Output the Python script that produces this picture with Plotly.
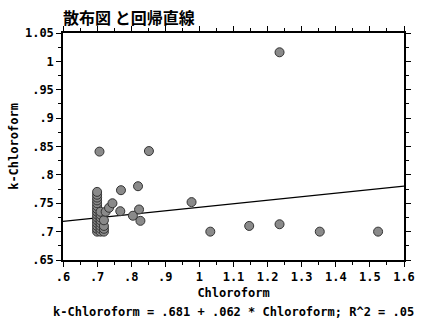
import plotly.graph_objects as go

# Observations
chloroform = [
    0.70, 0.70, 0.70, 0.70, 0.70, 0.70, 0.70, 0.70, 0.70, 0.70, 0.70, 0.70, 0.70, 0.70, 0.70,
    0.71, 0.71, 0.71, 0.71, 0.71, 0.71, 0.71, 0.71,
    0.72, 0.72, 0.72, 0.72,
    0.725, 0.735, 0.745,
    0.707, 0.852, 0.770, 0.820, 0.768, 0.823, 0.805, 0.827,
    0.977, 1.032, 1.146, 1.235, 1.235, 1.353, 1.524,
]
k_chloroform = [
    0.700, 0.705, 0.710, 0.715, 0.720, 0.725, 0.730, 0.735, 0.740, 0.745, 0.750, 0.755, 0.760, 0.765, 0.770,
    0.700, 0.705, 0.710, 0.715, 0.720, 0.725, 0.730, 0.735,
    0.700, 0.705, 0.710, 0.720,
    0.735, 0.742, 0.750,
    0.841, 0.842, 0.773, 0.780, 0.736, 0.739, 0.728, 0.719,
    0.752, 0.700, 0.710, 0.713, 1.016, 0.700, 0.700,
]

# Fitted line coefficients
intercept = 0.681
slope = 0.062

x_range = [0.6, 1.6]
y_range = [0.65, 1.05]
x_tickvals = [0.6, 0.7, 0.8, 0.9, 1.0, 1.1, 1.2, 1.3, 1.4, 1.5, 1.6]
x_ticktext = [".6", ".7", ".8", ".9", "1", "1.1", "1.2", "1.3", "1.4", "1.5", "1.6"]
y_tickvals = [0.65, 0.70, 0.75, 0.80, 0.85, 0.90, 0.95, 1.00, 1.05]
y_ticktext = [".65", ".7", ".75", ".8", ".85", ".9", ".95", "1", "1.05"]

mono = "DejaVu Sans Mono"
label_font = dict(family=mono, size=12, color="black", weight="bold")

fig = go.Figure()

fig.add_trace(go.Scatter(
    x=x_range,
    y=[intercept + slope * v for v in x_range],
    mode="lines",
    line=dict(color="black", width=1.3),
    hoverinfo="skip",
))

fig.add_trace(go.Scatter(
    x=chloroform,
    y=k_chloroform,
    mode="markers",
    marker=dict(size=9, color="#8a8a8a", line=dict(color="#333333", width=1)),
))

axis_common = dict(
    showgrid=False,
    zeroline=False,
    showline=True,
    linecolor="black",
    linewidth=1.5,
    mirror="ticks",
    ticks="outside",
    ticklen=5,
    tickwidth=1.2,
    tickcolor="black",
    tickfont=label_font,
)

fig.update_layout(
    width=427,
    height=320,
    margin=dict(l=63, r=19, t=33, b=60),
    paper_bgcolor="white",
    plot_bgcolor="white",
    showlegend=False,
    title=dict(
        text="散布図 と回帰直線",
        x=63 / 427,
        xanchor="left",
        y=1 - 18 / 320,
        yanchor="middle",
        font=dict(family="Noto Sans CJK JP", size=16, color="black", weight="bold"),
    ),
    xaxis=dict(
        range=x_range,
        tickvals=x_tickvals,
        ticktext=x_ticktext,
        minor=dict(dtick=0.05, ticklen=3, tickcolor="black", ticks="outside"),
        title=dict(text="Chloroform", standoff=5, font=label_font),
        **axis_common,
    ),
    yaxis=dict(
        range=y_range,
        tickvals=y_tickvals,
        ticktext=y_ticktext,
        minor=dict(dtick=0.025, ticklen=3, tickcolor="black", ticks="outside"),
        title=dict(text="k-Chloroform", standoff=4, font=label_font),
        **axis_common,
    ),
)

fig.add_annotation(
    text=f"k-Chloroform = {str(intercept)[1:]} + {str(slope)[1:]} * Chloroform; R^2 = .05",
    xref="paper", yref="paper",
    x=0.5, y=-(312 - 260) / 227,
    xanchor="center", yanchor="middle",
    showarrow=False,
    font=label_font,
)

fig.write_html("out.html")
